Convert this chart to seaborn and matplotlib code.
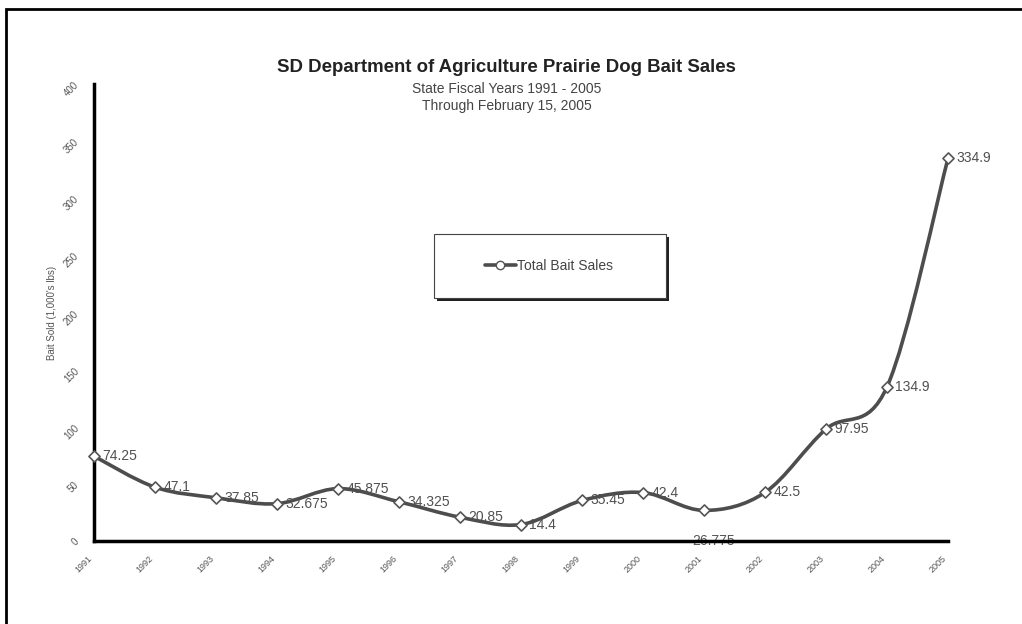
import numpy as np
import pandas as pd
import matplotlib
matplotlib.use("Agg")
import matplotlib.pyplot as plt
import seaborn as sns
from matplotlib.path import Path
from matplotlib.patches import PathPatch, Rectangle
from matplotlib.lines import Line2D

years = [1991, 1992, 1993, 1994, 1995, 1996, 1997, 1998, 1999, 2000, 2001, 2002, 2003, 2004, 2005]
sales = [74.25, 47.1, 37.85, 32.675, 45.875, 34.325, 20.85, 14.4, 35.45, 42.4, 26.775, 42.5, 97.95, 134.9, 334.9]
labels = ["74.25", "47.1", "37.85", "32.675", "45.875", "34.325", "20.85", "14.4", "35.45", "42.4",
          "26.775", "42.5", "97.95", "134.9", "334.9"]
y_ticks = [0, 50, 100, 150, 200, 250, 300, 350, 400]

sns.set_theme(style="white")
plt.rcParams['font.family'] = ['Liberation Sans', 'DejaVu Sans']

df = pd.DataFrame({"year": years, "sales": sales})

W, H = 1022, 624
fig = plt.figure(figsize=(W / 100, H / 100), dpi=100)
ax = fig.add_axes([94/W, 1-541/H, (948-94)/W, (541-84)/H])

# smooth (Excel-like) curve through the points using Bezier segments
P = np.column_stack([np.array(years, float), np.array(sales, float)])
n = len(P)
verts = [P[0]]
codes = [Path.MOVETO]
for i in range(n - 1):
    p0 = P[i - 1] if i > 0 else P[i]
    p1 = P[i]
    p2 = P[i + 1]
    p3 = P[i + 2] if i + 2 < n else P[i + 1]
    c1 = p1 + (p2 - p0) / 6.0
    c2 = p2 - (p3 - p1) / 6.0
    verts += [c1, c2, p2]
    codes += [Path.CURVE4] * 3
ax.add_patch(PathPatch(Path(verts, codes), fill=False, edgecolor="#4d4d4d", lw=2.6,
                       zorder=2, clip_on=False))

sns.scatterplot(data=df, x="year", y="sales", ax=ax, marker="D", s=32,
                facecolor="white", edgecolor="#555555", linewidth=1.2, zorder=3,
                legend=False, clip_on=False)

for yr, v, lab in zip(years, sales, labels):
    if yr == 2001:
        ax.annotate(lab, (yr, 0), xytext=(7, 0), textcoords="offset points",
                    ha="center", va="center", fontsize=10, color="#555555", zorder=1)
    else:
        ax.annotate(lab, (yr, v), xytext=(6, 0), textcoords="offset points",
                    ha="left", va="center", fontsize=10, color="#505050")

ax.set_xlim(1991, 2005)
ax.set_ylim(0, 400)
ax.set_xticks(years)
ax.set_xticklabels([str(y) for y in years], rotation=45, ha="right", fontsize=6.5, color="#555555")
ax.set_yticks(y_ticks)
ax.set_yticklabels([str(t) for t in y_ticks], rotation=45, fontsize=7, color="#555555")
ax.tick_params(axis="both", direction="inout", length=7, width=2, color="black", pad=6)
for s in ["top", "right"]:
    ax.spines[s].set_visible(False)
for s in ["left", "bottom"]:
    ax.spines[s].set_linewidth(2.5)
    ax.spines[s].set_color("black")
ax.set_xlabel("")
ax.set_ylabel("Bait Sold (1,000's lbs)", fontsize=7, color="#555555", labelpad=4)
ax.grid(False)

# legend box (with shadow) and legend entry
fig.patches.append(Rectangle((437/W, 1-301/H), 232/W, 64/H, transform=fig.transFigure,
                             facecolor="#222222", edgecolor="none", figure=fig, zorder=4))
fig.patches.append(Rectangle((434/W, 1-298/H), 232/W, 64/H, transform=fig.transFigure,
                             facecolor="white", edgecolor="#444444", lw=0.8, figure=fig, zorder=5))
handle = Line2D([], [], color="#4d4d4d", lw=2.6, marker="o", markersize=6,
                markerfacecolor="white", markeredgecolor="#555555")
leg = fig.legend([handle], ["Total Bait Sales"], loc="center left",
                 bbox_to_anchor=(485/W, 1-266/H), frameon=False, fontsize=10,
                 handlelength=2.2, handletextpad=0.1, borderpad=0, borderaxespad=0,
                 labelcolor="#444444")
leg.set_zorder(6)

fig.text(0.496, 1-68/H, "SD Department of Agriculture Prairie Dog Bait Sales", ha="center",
         va="center", fontsize=13.4, fontweight="bold", color="#222222")
fig.text(0.496, 1-89/H, "State Fiscal Years 1991 - 2005", ha="center", va="center",
         fontsize=10, color="#444444")
fig.text(0.496, 1-106/H, "Through February 15, 2005", ha="center", va="center",
         fontsize=10, color="#444444")

fig.patches.append(Rectangle((6/W, -0.1), 1.2, 1 - 9/H + 0.1, transform=fig.transFigure,
                             fill=False, edgecolor="black", lw=2, figure=fig))

fig.savefig("out.png", dpi=100)
